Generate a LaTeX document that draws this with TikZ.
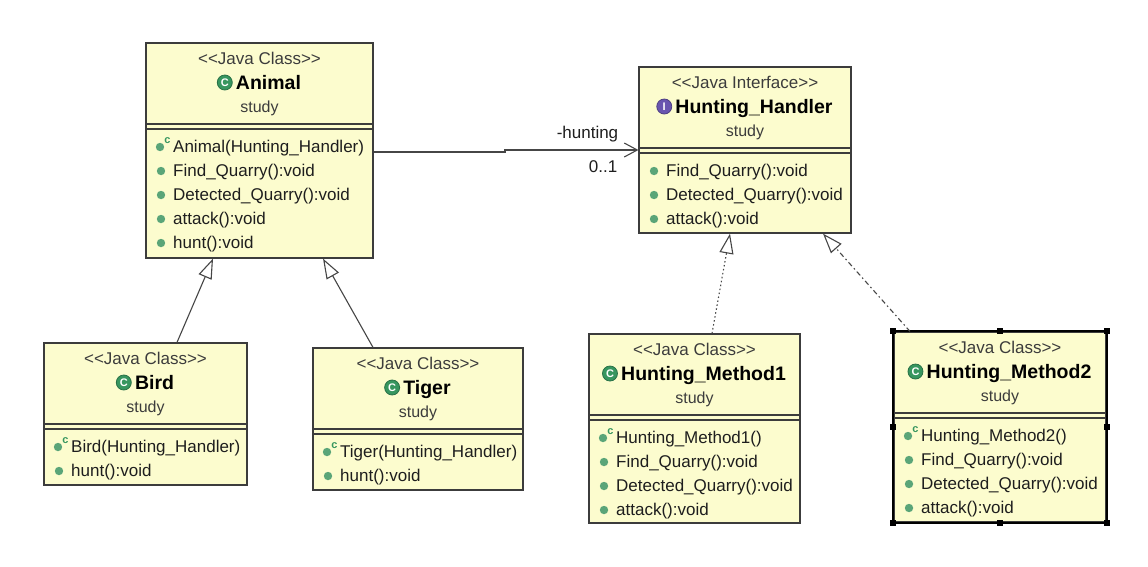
\documentclass[tikz,border=0pt]{standalone}
\usepackage{fontspec}
\setmainfont{Liberation Sans}
\usetikzlibrary{arrows.meta,fit}
\definecolor{boxfill}{RGB}{252,252,206}
\definecolor{boxline}{RGB}{60,60,60}
\definecolor{txtdark}{RGB}{30,30,30}
\definecolor{txtgray}{RGB}{60,60,60}
\definecolor{dotgreen}{RGB}{90,165,120}
\definecolor{clsgreen}{RGB}{55,150,95}
\definecolor{ifpurple}{RGB}{105,85,175}
\definecolor{linecol}{RGB}{70,70,70}
\def\sterL{<\kern0pt<}
\def\sterR{>\kern0pt>}
\def\iconLcls{C}
\def\iconLifc{I}
\tikzset{
  umlbox/.style={draw=boxline, fill=boxfill, line width=1.2pt, inner sep=0pt},
  sepline/.style={draw=boxline, line width=1.2pt},
  stereo/.style={font=\fontsize{17}{17}\selectfont, text=txtgray, inner sep=0pt, anchor=base},
  cname/.style={font=\fontsize{19.5}{20}\selectfont\bfseries, text=black, inner sep=0pt, anchor=base},
  pkg/.style={font=\fontsize{16}{16}\selectfont, text=txtgray, inner sep=0pt, anchor=base},
  meth/.style={font=\fontsize{17}{17}\selectfont, text=txtdark, inner sep=0pt, anchor=base west},
  ctorc/.style={font=\fontsize{11}{11}\selectfont\bfseries, text=clsgreen, inner sep=0pt},
  iconbase/.style={circle, line width=0.8pt, minimum size=15pt, inner sep=0pt, text=white, font=\fontsize{11}{11}\selectfont\bfseries},
  icon-cls/.style={iconbase, fill=clsgreen, draw=clsgreen!75!black},
  icon-ifc/.style={iconbase, fill=ifpurple, draw=ifpurple!75!black},
  lbl/.style={font=\fontsize{17}{17}\selectfont, text=txtdark, inner sep=0pt, anchor=base east},
  inherit/.style={draw=linecol, line width=1.1pt, -{Triangle[open, length=20pt, width=14pt]}},
  realize/.style={inherit, dash pattern=on 1.5pt off 2.5pt},
  realize2/.style={inherit, dash pattern=on 5pt off 3pt on 1.5pt off 3pt},
  assoc/.style={draw=linecol, line width=1.1pt, -{Straight Barb[length=13pt, width=14pt]}},
  handle/.style={fill=black}
}
% #1 id, #2 left, #3 top, #4 right, #5 bottom, #6 stereotype, #7 icon kind, #8 name, #9 members
\newcommand{\umlclass}[9]{%
  \node[umlbox, fit={({#2},{#3}) ({#4},{#5})}] (#1) {};
  \draw[sepline] ({#2},{#3+81}) -- ({#4},{#3+81});
  \draw[sepline] ({#2},{#3+86}) -- ({#4},{#3+86});
  \node[stereo] (#1-st) at ({(#2+#4)/2},{#3+21}) {#6};
  \node[cname] (#1-nm) at ({(#2+#4)/2+9},{#3+46}) {#8};
  \node[icon-#7] (#1-ic) at ([xshift=-11pt,yshift=6.5pt]#1-nm.base west) {\csname iconL#7\endcsname};
  \node[pkg] (#1-pk) at ({(#2+#4)/2},{#3+69}) {study};
  \foreach \mk/\mt [count=\mi from 0] in {#9} {
    \if c\mk
      \fill[dotgreen] ({#2+14},{#3+104+24*\mi}) circle (4.2);
      \node[ctorc] (#1-c\mi) at ({#2+21.5},{#3+98+24*\mi}) {c};
    \else
      \fill[dotgreen] ({#2+15},{#3+104+24*\mi}) circle (4.2);
    \fi
    \node[meth] (#1-m\mi) at ({#2+27},{#3+109+24*\mi}) {\mt};
  }
}
\begin{document}
\begin{tikzpicture}[x=1pt,y=-1pt]
\fill[white] (0,0) rectangle (1148,566);
\useasboundingbox (0,0) rectangle (1148,566);

\umlclass{animal}{146}{43}{373}{258}{\sterL Java Class\sterR}{cls}{Animal}{c/Animal(Hunting\_Handler), m/Find\_Quarry():void, m/Detected\_Quarry():void, m/attack():void, m/hunt():void}
\umlclass{hh}{639}{67}{851}{233}{\sterL Java Interface\sterR}{ifc}{Hunting\_Handler}{m/Find\_Quarry():void, m/Detected\_Quarry():void, m/attack():void}
\umlclass{bird}{44}{343}{247}{485}{\sterL Java Class\sterR}{cls}{Bird}{c/Bird(Hunting\_Handler), m/hunt():void}
\umlclass{tiger}{313}{348}{523}{490}{\sterL Java Class\sterR}{cls}{Tiger}{c/Tiger(Hunting\_Handler), m/hunt():void}
\umlclass{hma}{589}{334}{800}{523}{\sterL Java Class\sterR}{cls}{Hunting\_Method1}{c/Hunting\_Method1(), m/Find\_Quarry():void, m/Detected\_Quarry():void, m/attack():void}
\umlclass{hmb}{894}{332}{1106}{522}{\sterL Java Class\sterR}{cls}{Hunting\_Method2}{c/Hunting\_Method2(), m/Find\_Quarry():void, m/Detected\_Quarry():void, m/attack():void}

% selection frame of Hunting_Method2
\draw[black, line width=2pt] (hmb.north west) rectangle (hmb.south east);
\foreach \a in {north west, north, north east, east, south east, south, south west, west}
  \fill[handle] (hmb.\a) ++(-3,-3) rectangle ++(6,6);

% connectors
\draw[inherit] ([xshift=31.5pt]bird.north) -- ([xshift=-46.5pt]animal.south);
\draw[inherit] ([xshift=-45pt]tiger.north) -- ([xshift=63.5pt]animal.south);
\draw[realize] ([xshift=17.5pt]hma.north) -- ([xshift=-15pt]hh.south);
\draw[realize2] ([xshift=-90pt]hmb.north) -- ([xshift=78pt]hh.south);

\coordinate (jog) at (505,150);
\draw[assoc] ([yshift=-1.5pt]animal.east) -| (jog) -- (hh.west);
\node[lbl] (role) at ([xshift=-20pt,yshift=12pt]hh.west) {-hunting};
\node[lbl] (mult) at ([xshift=-21pt,yshift=-22pt]hh.west) {0..1};
\end{tikzpicture}
\end{document}
